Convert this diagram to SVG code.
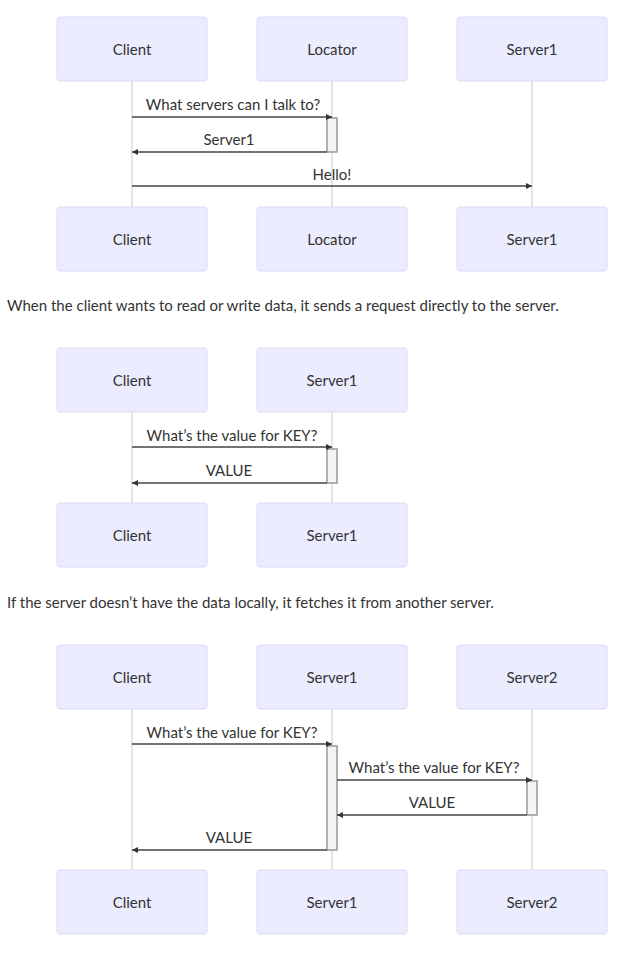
<svg xmlns="http://www.w3.org/2000/svg" width="621" height="969" viewBox="0 0 621 969">
<style>
.actor{fill:#ECECFF;stroke:#DCDAF7;stroke-width:1}
.life{stroke:#DDDDDD;stroke-width:1.5}
.act{fill:#F4F4F4;stroke:#999999;stroke-width:1.5}
.msg{stroke:#444444;stroke-width:1.7;fill:none}
.lbl{font-family:"Lato","Open Sans",sans-serif;font-size:15px;fill:#333333;text-anchor:middle}
.at{font-family:"Lato","Open Sans",sans-serif;font-size:15px;fill:#333333;text-anchor:middle;dominant-baseline:central}
.para{font-family:"Lato","Open Sans",sans-serif;font-size:15px;fill:#333333}
</style>
<defs>
<marker id="ah" viewBox="0 0 10 10" refX="10" refY="5" markerWidth="8" markerHeight="6" markerUnits="userSpaceOnUse" orient="auto">
<path d="M0,0 L10,5 L0,10 z" fill="#333333"/>
</marker>
</defs>
<rect width="621" height="969" fill="#FFFFFF"/>

<!-- Diagram 1 -->
<g id="d1-lifelines">
<line class="life" x1="132" y1="81" x2="132" y2="207"/>
<line class="life" x1="332" y1="81" x2="332" y2="207"/>
<line class="life" x1="532" y1="81" x2="532" y2="207"/>
</g>
<g id="d1-client-top"><rect class="actor" x="57" y="17" width="150" height="64" rx="3"/><text class="at" x="132" y="49">Client</text></g>
<g id="d1-locator-top"><rect class="actor" x="257" y="17" width="150" height="64" rx="3"/><text class="at" x="332" y="49">Locator</text></g>
<g id="d1-server1-top"><rect class="actor" x="457" y="17" width="150" height="64" rx="3"/><text class="at" x="532" y="49">Server1</text></g>
<g id="d1-client-bottom"><rect class="actor" x="57" y="207" width="150" height="64" rx="3"/><text class="at" x="132" y="239">Client</text></g>
<g id="d1-locator-bottom"><rect class="actor" x="257" y="207" width="150" height="64" rx="3"/><text class="at" x="332" y="239">Locator</text></g>
<g id="d1-server1-bottom"><rect class="actor" x="457" y="207" width="150" height="64" rx="3"/><text class="at" x="532" y="239">Server1</text></g>
<g id="d1-activation"><rect class="act" x="327" y="118" width="10" height="34"/></g>
<g id="d1-connectors">
<line class="msg" x1="132" y1="117" x2="332" y2="117" marker-end="url(#ah)"/>
<text class="lbl" x="233" y="110">What servers can I talk to?</text>
<line class="msg" x1="327" y1="152" x2="132" y2="152" marker-end="url(#ah)"/>
<text class="lbl" x="229" y="145">Server1</text>
<line class="msg" x1="132" y1="186" x2="532" y2="186" marker-end="url(#ah)"/>
<text class="lbl" x="332" y="180">Hello!</text>
</g>

<text class="para" x="7" y="311">When the client wants to read or write data, it sends a request directly to the server.</text>

<!-- Diagram 2 -->
<g id="d2-lifelines">
<line class="life" x1="132" y1="412" x2="132" y2="503"/>
<line class="life" x1="332" y1="412" x2="332" y2="503"/>
</g>
<g id="d2-client-top"><rect class="actor" x="57" y="348" width="150" height="64" rx="3"/><text class="at" x="132" y="380">Client</text></g>
<g id="d2-server1-top"><rect class="actor" x="257" y="348" width="150" height="64" rx="3"/><text class="at" x="332" y="380">Server1</text></g>
<g id="d2-client-bottom"><rect class="actor" x="57" y="503" width="150" height="64" rx="3"/><text class="at" x="132" y="535">Client</text></g>
<g id="d2-server1-bottom"><rect class="actor" x="257" y="503" width="150" height="64" rx="3"/><text class="at" x="332" y="535">Server1</text></g>
<g id="d2-activation"><rect class="act" x="327" y="449" width="10" height="34"/></g>
<g id="d2-connectors">
<line class="msg" x1="132" y1="447" x2="332" y2="447" marker-end="url(#ah)"/>
<text class="lbl" x="232" y="441">What’s the value for KEY?</text>
<line class="msg" x1="327" y1="483" x2="132" y2="483" marker-end="url(#ah)"/>
<text class="lbl" x="229" y="476">VALUE</text>
</g>

<text class="para" x="7" y="608">If the server doesn’t have the data locally, it fetches it from another server.</text>

<!-- Diagram 3 -->
<g id="d3-lifelines">
<line class="life" x1="132" y1="709" x2="132" y2="870"/>
<line class="life" x1="332" y1="709" x2="332" y2="870"/>
<line class="life" x1="532" y1="709" x2="532" y2="870"/>
</g>
<g id="d3-client-top"><rect class="actor" x="57" y="645" width="150" height="64" rx="3"/><text class="at" x="132" y="677">Client</text></g>
<g id="d3-server1-top"><rect class="actor" x="257" y="645" width="150" height="64" rx="3"/><text class="at" x="332" y="677">Server1</text></g>
<g id="d3-server2-top"><rect class="actor" x="457" y="645" width="150" height="64" rx="3"/><text class="at" x="532" y="677">Server2</text></g>
<g id="d3-client-bottom"><rect class="actor" x="57" y="870" width="150" height="64" rx="3"/><text class="at" x="132" y="902">Client</text></g>
<g id="d3-server1-bottom"><rect class="actor" x="257" y="870" width="150" height="64" rx="3"/><text class="at" x="332" y="902">Server1</text></g>
<g id="d3-server2-bottom"><rect class="actor" x="457" y="870" width="150" height="64" rx="3"/><text class="at" x="532" y="902">Server2</text></g>
<g id="d3-activations">
<rect class="act" x="327" y="746" width="10" height="104"/>
<rect class="act" x="527" y="781" width="10" height="34"/>
</g>
<g id="d3-connectors">
<line class="msg" x1="132" y1="744" x2="332" y2="744" marker-end="url(#ah)"/>
<text class="lbl" x="232" y="738">What’s the value for KEY?</text>
<line class="msg" x1="337" y1="780" x2="532" y2="780" marker-end="url(#ah)"/>
<text class="lbl" x="434" y="773">What’s the value for KEY?</text>
<line class="msg" x1="527" y1="815" x2="337" y2="815" marker-end="url(#ah)"/>
<text class="lbl" x="432" y="808">VALUE</text>
<line class="msg" x1="327" y1="850" x2="132" y2="850" marker-end="url(#ah)"/>
<text class="lbl" x="229" y="843">VALUE</text>
</g>
</svg>
